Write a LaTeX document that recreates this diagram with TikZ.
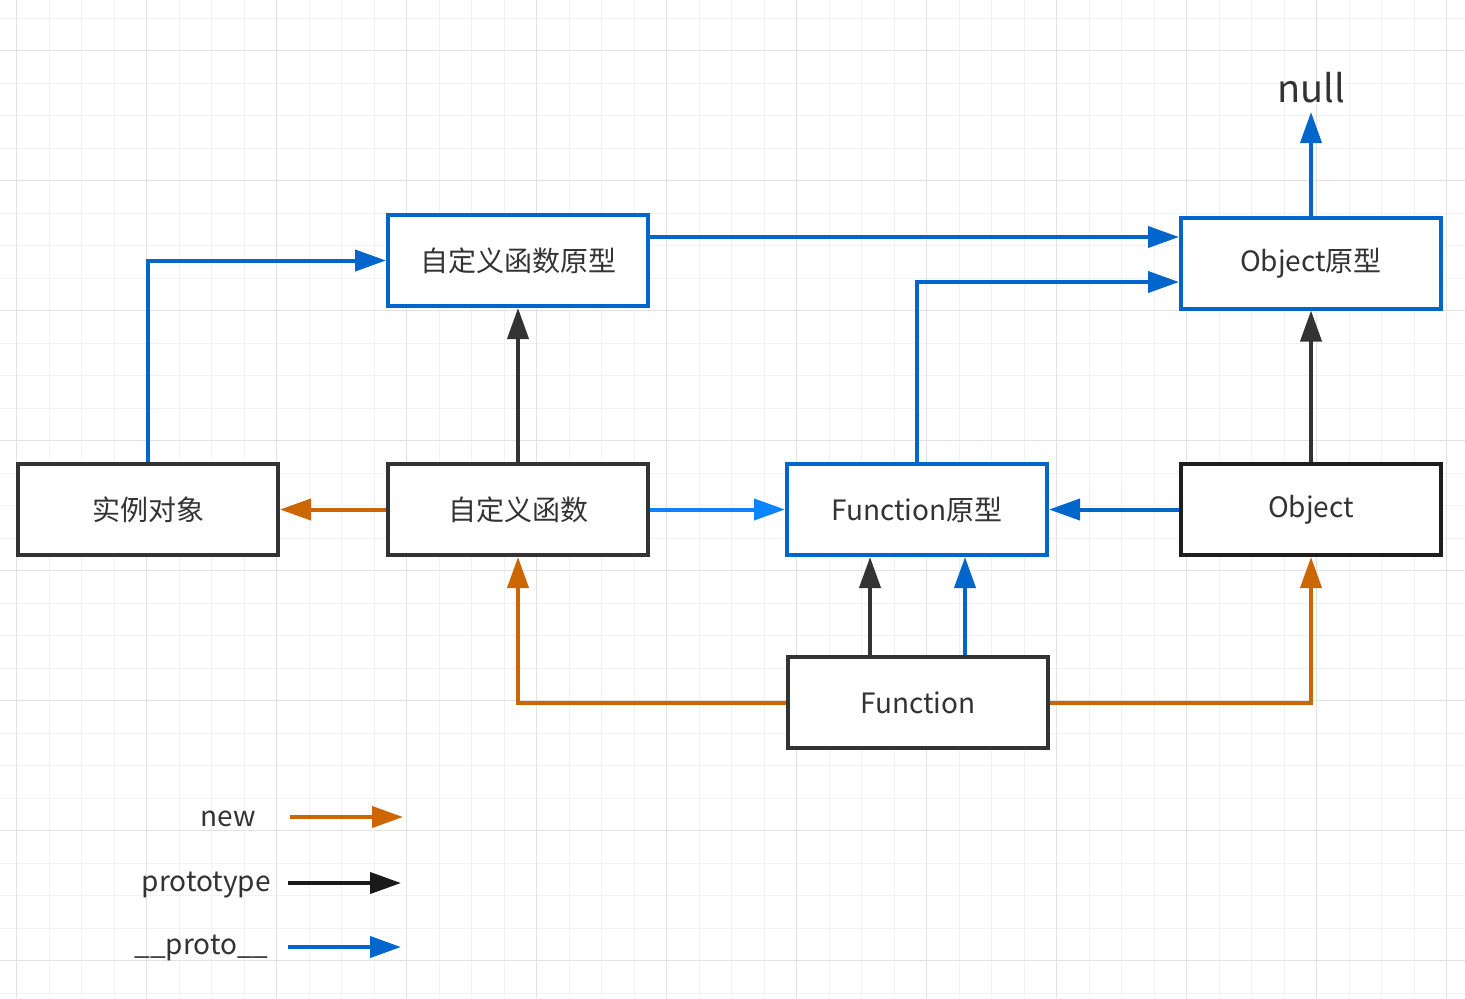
\documentclass[tikz,border=0pt]{standalone}
\usepackage{fontspec}
\setmainfont{Noto Sans CJK SC}
\usetikzlibrary{arrows.meta}
\definecolor{pblue}{HTML}{0066CC}
\definecolor{lblue}{HTML}{0A84FF}
\definecolor{porange}{HTML}{CC6600}
\definecolor{pdark}{HTML}{333333}
\definecolor{pblack}{HTML}{1A1A1A}
\definecolor{gminor}{HTML}{F1F1F1}
\definecolor{gmajor}{HTML}{E2E2E2}
\newcommand{\lowtext}[1]{\raisebox{-1.4pt}{#1}}
\begin{document}
\begin{tikzpicture}[x=0.5pt,y=-0.5pt,
  box/.style={draw, line width=2pt, minimum width=130pt, minimum height=45.5pt,
    fill=white, text=pdark, font=\fontsize{14}{16}\selectfont, inner sep=0pt},
  bluebox/.style={box, draw=pblue},
  darkbox/.style={box, draw=pdark},
  con/.style={line width=2pt, -{Triangle[length=15.5pt,width=10.5pt]}},
  legtext/.style={text=pdark, font=\fontsize{14}{16}\selectfont, inner sep=0pt},
]
\useasboundingbox (0,0) rectangle (1465,998);
\fill[white] (0,0) rectangle (1465,998);
% grid
\foreach \i in {0,...,44} {\draw[gminor, line width=0.5pt] ({16.7+32.5*\i},0) -- ({16.7+32.5*\i},998);}
\foreach \i in {0,...,30} {\draw[gminor, line width=0.5pt] (0,{18.3+32.5*\i}) -- (1465,{18.3+32.5*\i});}
\foreach \i in {0,...,11} {\draw[gmajor, line width=0.5pt] ({16.7+130*\i},0) -- ({16.7+130*\i},998);}
\foreach \i in {0,...,7} {\draw[gmajor, line width=0.5pt] (0,{50.7+130*\i}) -- (1465,{50.7+130*\i});}

% nodes
\node[bluebox] (fp) at (518,260.5) {\lowtext{自定义函数原型}};
\node[bluebox] (op) at (1311,263) {\lowtext{Object原型}};
\node[darkbox] (inst) at (148,509.5) {\lowtext{实例对象}};
\node[darkbox] (fn) at (518,509.5) {\lowtext{自定义函数}};
\node[bluebox] (Fp) at (917,509.5) {\lowtext{Function原型}};
\node[darkbox, draw=pblack!85!pdark] (obj) at (1311,509.5) {\lowtext{Object}};
\node[darkbox] (F) at (918,702.5) {\lowtext{Function}};
\node[text=pdark, font=\fontsize{19}{22}\selectfont, inner sep=0pt, anchor=base] (null) at (1311,102) {null};
\coordinate (nulltip) at (1311,112);

% connectors
\draw[con, pblue] (inst.north) |- (fp.west);
\draw[con, pblue] (fp.east |- 0,237) -- (op.west |- 0,237);
\draw[con, pblue] (Fp.north) |- (op.west |- 0,282);
\draw[con, pblue] (op.north) -- (nulltip);
\draw[con, pdark] (fn.north) -- (fp.south);
\draw[con, pdark] (obj.north) -- (op.south);
\draw[con, porange] (fn.west) -- (inst.east);
\draw[con, lblue] (fn.east) -- (Fp.west);
\draw[con, pblue] (obj.west) -- (Fp.east);
\draw[con, pdark] (F.north -| 870,0) -- (Fp.south -| 870,0);
\draw[con, pblue] (F.north -| 965,0) -- (Fp.south -| 965,0);
\draw[con, porange] (F.west) -| (fn.south);
\draw[con, porange] (F.east) -| (obj.south);

% legend
\node[legtext, anchor=east] (lnew) at (256,819) {new};
\node[legtext, anchor=east] (lproto) at (271,885) {prototype};
\node[legtext, anchor=east] (lpp) at (269,948) {\_\_proto\_\_};
\coordinate (a1) at (290,817); \coordinate (b1) at (403,817);
\coordinate (a2) at (288,883); \coordinate (b2) at (401,883);
\coordinate (a3) at (288,947); \coordinate (b3) at (401,947);
\draw[con, porange] (a1) -- (b1);
\draw[con, pblack] (a2) -- (b2);
\draw[con, pblue] (a3) -- (b3);
\end{tikzpicture}
\end{document}
